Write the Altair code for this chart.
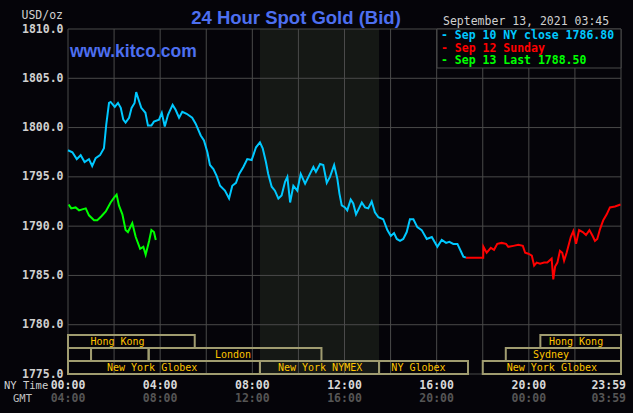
import altair as alt
import pandas as pd

# ---------------- data ----------------
cyan_hours = [0.00,0.19,0.38,0.55,0.72,0.91,1.05,1.20,1.39,1.56,
              1.66,1.78,1.85,2.03,2.17,2.29,2.40,2.50,2.65,2.76,
              2.89,2.96,3.04,3.18,3.36,3.47,3.62,3.73,3.95,4.07,
              4.20,4.34,4.54,4.67,4.82,4.96,5.15,5.39,5.54,5.76,
              5.90,6.05,6.16,6.31,6.45,6.60,6.81,6.99,7.13,7.29,
              7.43,7.61,7.78,7.97,8.16,8.33,8.45,8.59,8.69,8.84,
              8.98,9.13,9.27,9.42,9.52,9.64,9.78,9.95,10.10,10.29,
              10.50,10.65,10.76,10.94,11.08,11.23,11.37,11.55,11.69,11.78,
              11.88,12.02,12.12,12.27,12.38,12.50,12.75,12.89,13.03,13.18,
              13.32,13.47,13.68,13.86,14.01,14.15,14.27,14.41,14.55,14.70,
              14.84,14.99,15.16,15.35,15.57,15.79,16.03,16.22,16.41,16.55,
              16.72,16.90,17.04,17.16,17.27]
cyan_prices = [1797.7,1797.5,1796.8,1797.2,1796.5,1796.8,1796.1,1796.9,1797.2,1797.9,
               1800.3,1802.5,1802.6,1802.1,1802.5,1802.0,1800.8,1800.5,1801.0,1802.0,
               1802.5,1803.6,1803.0,1802.0,1801.5,1800.2,1800.2,1800.6,1800.8,1801.5,
               1800.1,1801.3,1802.3,1801.8,1801.0,1801.6,1801.4,1801.0,1800.4,1799.2,
               1798.7,1797.5,1796.2,1795.8,1795.1,1794.1,1793.6,1792.8,1794.1,1794.4,
               1795.3,1796.0,1796.8,1796.7,1798.0,1798.5,1797.9,1796.5,1795.3,1794.0,
               1793.6,1792.8,1793.1,1794.5,1795.0,1792.4,1794.1,1793.6,1795.3,1794.3,
               1795.3,1796.0,1795.5,1796.3,1796.2,1794.4,1795.0,1796.2,1794.8,1793.3,
               1792.1,1791.9,1791.6,1792.7,1792.3,1791.2,1792.4,1791.9,1791.8,1792.5,
               1791.4,1790.9,1790.7,1789.6,1789.0,1789.3,1788.7,1788.5,1788.7,1789.4,
               1790.7,1790.7,1789.9,1789.6,1788.7,1788.9,1787.9,1788.6,1788.3,1788.4,
               1788.2,1788.2,1787.5,1786.9,1786.8]

red_hours = [17.27,18.02,18.03,18.17,18.35,18.49,18.63,18.82,19.01,19.11,
             19.33,19.54,19.74,19.84,19.98,20.13,20.23,20.34,20.49,20.66,
             20.80,20.99,21.06,21.14,21.24,21.35,21.45,21.53,21.64,21.82,
             21.93,22.05,22.18,22.34,22.48,22.63,22.77,22.87,22.97,23.09,
             23.23,23.38,23.52,23.74,23.98]
red_prices = [1786.8,1786.8,1787.9,1787.3,1787.8,1787.6,1788.2,1788.3,1788.2,1787.9,
              1788.0,1788.1,1788.0,1787.3,1787.2,1787.0,1786.0,1786.3,1786.2,1786.3,
              1786.3,1786.7,1784.6,1785.9,1786.3,1787.5,1787.3,1786.5,1787.3,1788.9,
              1789.5,1788.2,1789.6,1789.4,1789.1,1789.6,1789.0,1788.5,1788.7,1789.7,
              1790.6,1791.2,1791.9,1792.0,1792.2]

green_hours = [0.03,0.14,0.33,0.48,0.62,0.77,0.91,1.13,1.27,1.45,
               1.64,1.85,2.00,2.11,2.21,2.36,2.50,2.60,2.79,2.94,
               3.13,3.27,3.37,3.52,3.62,3.73,3.81]
green_prices = [1792.2,1791.8,1791.9,1791.6,1791.7,1791.8,1791.1,1790.6,1790.6,1791.0,
                1791.5,1792.4,1792.9,1793.2,1792.1,1791.2,1789.6,1789.4,1790.3,1788.9,
                1787.7,1787.9,1787.1,1788.5,1789.6,1789.4,1788.6]

series_names = ["Sep 10", "Sep 12", "Sep 13"]
series_colors = ["#00c8ff", "#ff0000", "#00ff00"]
legend_texts = ["- Sep 10 NY close 1786.80", "- Sep 12 Sunday", "- Sep 13 Last 1788.50"]

nymex_band = [8.33, 13.5]

sess_names = ["Hong Kong", "Hong Kong", "", "", "London", "Sydney",
              "New York Globex", "New York NYMEX", "NY Globex", "New York Globex"]
sess_start = [0, 20.5, 0, 1.0, 3.5, 19.0, 0, 8.33, 13.5, 18.0]
sess_end = [5.5, 24, 1.0, 3.5, 11.0, 24, 8.33, 13.5, 17.36, 24]
sess_row = [1, 1, 2, 2, 2, 2, 3, 3, 3, 3]
sess_label_at = [2.15, 22.05, 0.5, 2.25, 7.16, 20.96, 3.65, 10.94, 15.21, 21.0]

grid_hours = list(range(0, 25, 2))
grid_prices = [1775, 1780, 1785, 1790, 1795, 1800, 1805, 1810]

tick_hours = [0, 4, 8, 12, 16, 20, 24]
ny_labels = ["00:00", "04:00", "08:00", "12:00", "16:00", "20:00", "23:59"]
gmt_labels = ["04:00", "08:00", "12:00", "16:00", "20:00", "00:00", "03:59"]

# ---------------- style ----------------
W, H = 553, 345
BG = "#050409"
GRID = "#4a4a4a"
SHADE = "#151815"
BOX = "#a09c70"
SESS_TXT = "#ffc400"
MONO = "DejaVu Sans Mono"
SANS = "Liberation Sans"
BLUE = "#4d6ff0"

x_scale = alt.Scale(domain=[0, 24], nice=False, zero=False)
y_scale = alt.Scale(domain=[1775, 1810], nice=False, zero=False)
y_axis = alt.Axis(values=grid_prices, format=".1f", grid=False, ticks=False, domain=False,
                  labelFont=MONO, labelFontSize=11.5, labelFontWeight="bold",
                  labelColor="#d0d0d0", labelPadding=5, title=None)

lines_df = pd.concat([
    pd.DataFrame({"hour": cyan_hours, "price": cyan_prices, "series": series_names[0]}),
    pd.DataFrame({"hour": red_hours, "price": red_prices, "series": series_names[1]}),
    pd.DataFrame({"hour": green_hours, "price": green_prices, "series": series_names[2]}),
])
sess_df = pd.DataFrame({"name": sess_names, "start": sess_start, "end": sess_end,
                        "row": sess_row, "lab": sess_label_at})

layers = []

# NYMEX shading
layers.append(alt.Chart(pd.DataFrame({"s": [nymex_band[0]], "e": [nymex_band[1]]}))
              .mark_rect(color=SHADE)
              .encode(x=alt.X("s:Q", scale=x_scale, axis=None), x2="e:Q",
                      y=alt.value(0), y2=alt.value(H)))

# grid
layers.append(alt.Chart(pd.DataFrame({"h": grid_hours}))
              .mark_rule(color=GRID, strokeWidth=1)
              .encode(x=alt.X("h:Q", scale=x_scale, axis=None), y=alt.value(0), y2=alt.value(H)))
layers.append(alt.Chart(pd.DataFrame({"p": grid_prices}))
              .mark_rule(color=GRID, strokeWidth=1)
              .encode(y=alt.Y("p:Q", scale=y_scale, axis=y_axis), x=alt.value(0), x2=alt.value(W)))

# session boxes
row_px = {1: (306, 319), 2: (319, 332), 3: (332, 345)}
for r, (top, bot) in row_px.items():
    base = alt.Chart(sess_df).transform_filter(alt.datum.row == r)
    layers.append(base.mark_rect(fillOpacity=0, stroke=BOX, strokeWidth=2)
                  .encode(x=alt.X("start:Q", scale=x_scale, axis=None), x2="end:Q",
                          y=alt.value(top), y2=alt.value(bot)))
    layers.append(base.mark_text(font=MONO, fontSize=10, color=SESS_TXT, baseline="middle")
                  .encode(x=alt.X("lab:Q", scale=x_scale, axis=None), y=alt.value((top + bot) / 2),
                          text="name:N"))

# price lines
layers.append(alt.Chart(lines_df).mark_line(strokeWidth=2, interpolate="linear")
              .encode(x=alt.X("hour:Q", scale=x_scale, axis=None),
                      y=alt.Y("price:Q", scale=y_scale, axis=y_axis),
                      color=alt.Color("series:N", scale=alt.Scale(domain=series_names, range=series_colors),
                                      legend=None),
                      detail="series:N"))

# legend box
layers.append(alt.Chart(pd.DataFrame({"a": [0]})).mark_rect(fill=BG, stroke=GRID, strokeWidth=1)
              .encode(x=alt.value(369), x2=alt.value(W), y=alt.value(0), y2=alt.value(39)))


def txt(text, x, y, color, size, font=MONO, weight="normal", align="left", baseline="middle"):
    return (alt.Chart(pd.DataFrame({"t": [text]}))
            .mark_text(align=align, baseline=baseline, font=font, fontSize=size,
                       fontWeight=weight, color=color)
            .encode(x=alt.value(x), y=alt.value(y), text="t:N"))


for i, (t, c) in enumerate(zip(legend_texts, series_colors)):
    layers.append(txt(t, 373, 7 + 12.5 * i, c, 11.5, weight="bold"))

# titles / annotations
layers.append(txt("24 Hour Spot Gold (Bid)", 228, -5, BLUE, 18.5, font=SANS, weight="bold",
                  align="center", baseline="alphabetic"))
layers.append(txt("www.kitco.com", 2, 28, BLUE, 17.5, font=SANS, weight="bold", baseline="alphabetic"))
layers.append(txt("USD/oz", -5, -13, "#d0d0d0", 11.5, align="right"))
layers.append(txt("September 13, 2021 03:45", 375, -7, "#d0d0d0", 11.5))
layers.append(txt("NY Time", -64, 357, "#d0d0d0", 10.5))
layers.append(txt("GMT", -55, 370, "#c0c0c0", 10.5))

# time labels
tl = pd.DataFrame({"h": tick_hours, "ny": ny_labels, "gmt": gmt_labels})
tl_main = alt.Chart(tl).transform_filter(alt.datum.h < 24)
tl_last = alt.Chart(tl).transform_filter(alt.datum.h >= 24)
layers.append(tl_main.mark_text(font=MONO, fontSize=11.5, fontWeight="bold", color="#d8d8d8",
                                baseline="middle", align="center")
              .encode(x=alt.X("h:Q", scale=x_scale, axis=None), y=alt.value(356.5), text="ny:N"))
layers.append(tl_main.mark_text(font=MONO, fontSize=11.5, fontWeight="bold", color="#555555",
                                baseline="middle", align="center")
              .encode(x=alt.X("h:Q", scale=x_scale, axis=None), y=alt.value(370), text="gmt:N"))
layers.append(tl_last.mark_text(font=MONO, fontSize=11.5, fontWeight="bold", color="#d8d8d8",
                                baseline="middle", align="right", dx=5)
              .encode(x=alt.X("h:Q", scale=x_scale, axis=None), y=alt.value(356.5), text="ny:N"))
layers.append(tl_last.mark_text(font=MONO, fontSize=11.5, fontWeight="bold", color="#555555",
                                baseline="middle", align="right", dx=5)
              .encode(x=alt.X("h:Q", scale=x_scale, axis=None), y=alt.value(370), text="gmt:N"))

chart = (alt.layer(*layers)
         .properties(width=W, height=H, background=BG,
                     padding={"left": 68, "top": 29, "right": 12, "bottom": 39},
                     autosize=alt.AutoSizeParams(type="none"))
         .configure_view(strokeWidth=0))

chart.save("out.html", embed_options={"renderer": "svg", "actions": False})
